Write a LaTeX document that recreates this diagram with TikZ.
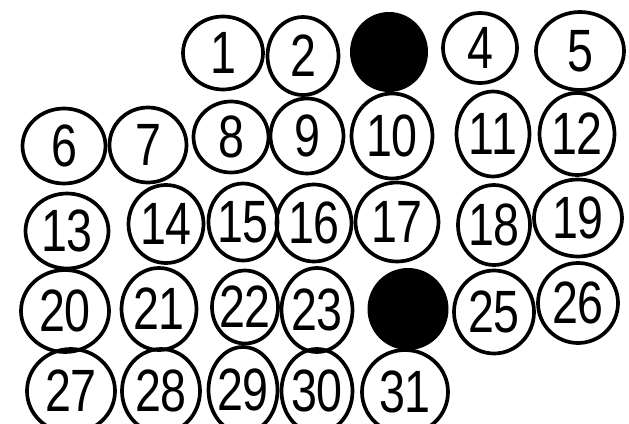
\documentclass[tikz,border=0pt]{standalone}
\usepackage{fontspec}
\newfontfamily\numfont[FakeStretch=0.78]{Liberation Sans}
\usetikzlibrary{shapes.geometric}

\begin{document}
\begin{tikzpicture}[x=0.02cm,y=-0.02cm,
    day/.style={ellipse,draw,line width=2.1pt,inner sep=0pt},
    num/.style={inner sep=0pt,font=\numfont\fontsize{34}{34}\selectfont},
    shut/.style={ellipse,fill=black,inner sep=0pt}]
  \useasboundingbox (0,0) rectangle (629,423);
  \clip (0,0) rectangle (629,423);
  % days of the month
  \foreach \n/\x/\y/\w/\h in {1/223/53/80/73, 2/303/56/71/78, 4/480/48/74/70, 5/580/51/88/78,
      6/64/146/83/75, 7/148/145/77/75, 8/231/137/75/71, 9/307/136/73/75, 10/392/136/81/85,
      11/493/134/73/85, 12/577/134/75/82,
      13/67/231/83/75, 14/166/224/75/78, 15/243/222/69/77, 16/314/223/75/77, 17/397/222/83/79,
      18/494/225/72/80, 19/578/218/88/77,
      20/65/311/88/82, 21/159/309/75/82, 22/245/307/66/73, 23/317/310/71/84,
      25/494/312/80/83, 26/578/303/80/80,
      27/71/391/88/84, 28/161/391/78/84, 29/243/390/69/86, 30/317/391/71/84, 31/405/392/86/84}
    \node[day,minimum width=\w*0.02cm,minimum height=\h*0.02cm,label={[num]center:\n}] (d\n) at (\x,\y) {};
  % blacked-out days
  \node[shut,minimum width=78*0.02cm,minimum height=80*0.02cm] (d3) at (389,52) {};
  \node[shut,minimum width=81*0.02cm,minimum height=82*0.02cm] (d24) at (408,309) {};
\end{tikzpicture}
\end{document}
